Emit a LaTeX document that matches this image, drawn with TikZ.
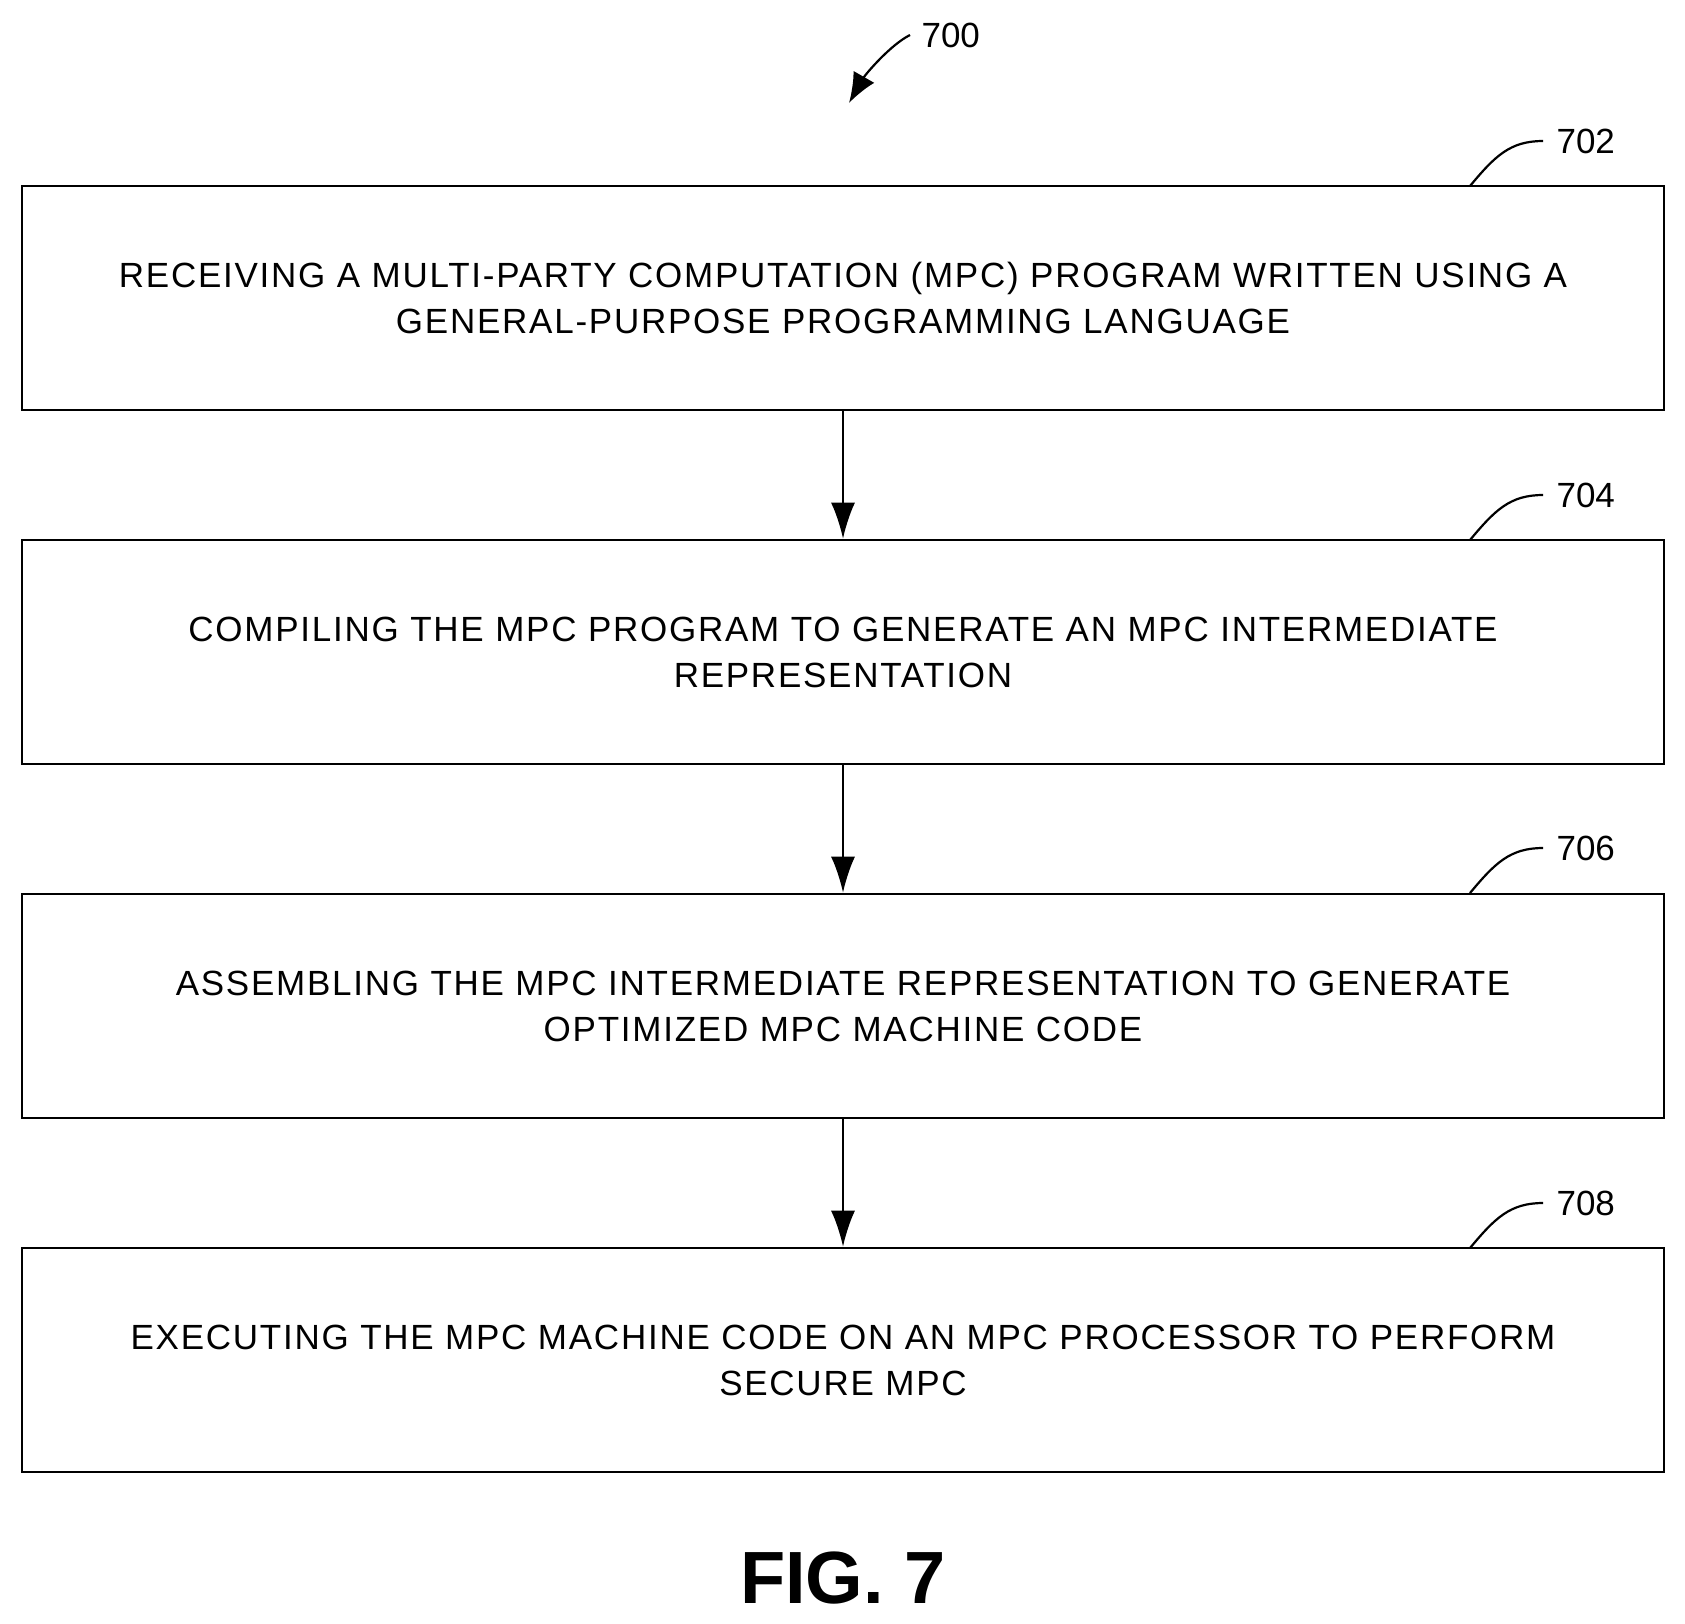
\documentclass[tikz,border=0pt]{standalone}
\usepackage{fontspec}
\setmainfont{Liberation Sans}
\newfontfamily\widesans[LetterSpace=5]{Liberation Sans}
\usetikzlibrary{arrows.meta,positioning}

\begin{document}
\begin{tikzpicture}[x=1pt,y=-1pt,
	stepbox/.style={draw,line width=2.6pt,minimum width=1642pt,minimum height=224pt,align=center,font=\widesans\fontsize{35}{46}\selectfont},
	flow/.style={line width=2.2pt,-{Latex[length=36pt,width=24pt]}},
	ref/.style={font=\fontsize{35}{40}\selectfont}]
	\useasboundingbox (0,0) rectangle (1685,1623);

	\node (s702) [stepbox] at (843,298) {RECEIVING A MULTI-PARTY COMPUTATION (MPC) PROGRAM WRITTEN USING A\\GENERAL-PURPOSE PROGRAMMING LANGUAGE};
	\node (s704) [stepbox] at (843,652) {COMPILING THE MPC PROGRAM TO GENERATE AN MPC INTERMEDIATE\\REPRESENTATION};
	\node (s706) [stepbox] at (843,1006) {ASSEMBLING THE MPC INTERMEDIATE REPRESENTATION TO GENERATE\\OPTIMIZED MPC MACHINE CODE};
	\node (s708) [stepbox] at (843,1360) {EXECUTING THE MPC MACHINE CODE ON AN MPC PROCESSOR TO PERFORM\\SECURE MPC};

	\draw [flow] (s702) -- (s704);
	\draw [flow] (s704) -- (s706);
	\draw [flow] (s706) -- (s708);

	% reference numerals
	\foreach \n/\y in {702/186,704/540,706/893,708/1248}{
		\node (l\n) [ref,anchor=west] at (1553,\y-45) {\n};
		\draw [line width=2.2pt] (1470,\y) .. controls (1495,\y-30) and (1510,\y-45) .. ([xshift=-10pt]l\n.west);
	}

	\node (l700) [ref,anchor=west] at (918,35) {700};
	\coordinate (t700) at (849,103);
	\draw [flow,-{Latex[length=30pt,width=24pt]}] ([xshift=-8pt]l700.west) .. controls (890,45) and (865,75) .. (t700);

	\node (fig) [font=\fontsize{74}{80}\selectfont\bfseries] at (843,1578) {FIG. 7};
\end{tikzpicture}
\end{document}
